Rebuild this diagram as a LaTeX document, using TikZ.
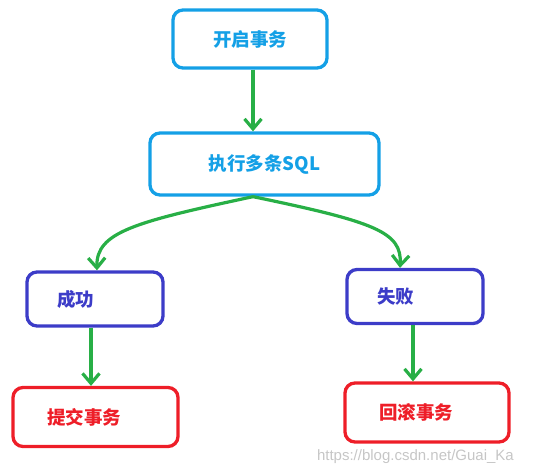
\documentclass[tikz,border=0pt]{standalone}
\usepackage{fontspec}
\newfontfamily\cjk{Noto Sans CJK SC Black}
\setmainfont{Liberation Sans}
\usetikzlibrary{arrows.meta}
\definecolor{cyanb}{RGB}{20,160,230}
\definecolor{purpb}{RGB}{60,60,200}
\definecolor{redb}{RGB}{238,30,40}
\definecolor{greenl}{RGB}{40,175,70}
\tikzset{
  box/.style={draw, rounded corners=10pt, line width=3.3pt, font=\cjk\fontsize{18.5}{22}\selectfont},
  topbox/.style={box, draw=cyanb, text=cyanb, align=center},
  midbox/.style={box, draw=purpb, text=purpb, align=left, inner xsep=30pt, minimum height=54pt},
  lowbox/.style={box, draw=redb, text=redb, align=left, inner xsep=34pt, minimum height=59pt},
  link/.style={draw=greenl, line width=3.2pt, -{Straight Barb[length=10pt,width=17pt,line width=3.2pt]}},
}
\begin{document}
\begin{tikzpicture}[x=1pt,y=-1pt]
\useasboundingbox (0,0) rectangle (537,468);
\node[topbox, minimum width=154pt, minimum height=58pt] (b1) at (250,39) {开启事务};
\node[topbox, minimum width=229pt, minimum height=62pt] (b2) at (264.5,164) {执行多条SQL};
\node[midbox, text width=76pt] (ok) at (95,299) {成功};
\node[midbox, text width=76pt] (fail) at (415,296.5) {失败};
\node[lowbox, text width=97pt] (commit) at (95.5,417) {提交事务};
\node[lowbox, text width=96pt] (rollback) at (427,412.5) {回滚事务};
\node[text=gray!45, font=\fontsize{15}{17}\selectfont, anchor=east, inner sep=0pt] (wm) at (514,457) {https://blog.csdn.net/Guai\_Ka};
\coordinate (s) at (b2.south -| 253,0);
\draw[link] (b1.south -| 253,0) -- (b2.north -| 253,0);
\draw[link] (s) .. controls (135,222) and (96,232) .. (ok.north -| 97,0);
\draw[link] (s) .. controls (375,222) and (402,232) .. (fail.north -| 400,0);
\draw[link] (ok.south -| 91,0) -- (commit.north -| 91,0);
\draw[link] (fail.south -| 413,0) -- (rollback.north -| 413,0);
\end{tikzpicture}
\end{document}
